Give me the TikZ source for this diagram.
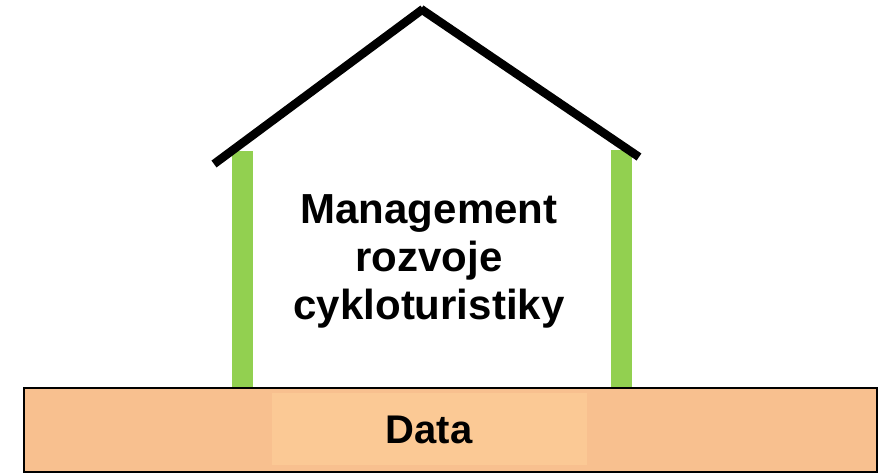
\documentclass[tikz,border=0pt]{standalone}
\usepackage{fontspec}
\setmainfont{Liberation Sans}
\usetikzlibrary{calc}
\definecolor{basefill}{HTML}{F8C08F}
\definecolor{innerfill}{HTML}{FBC995}
\definecolor{pillar}{HTML}{92D050}
\tikzset{
  roofline/.style={line width=8.5pt, black, line cap=butt},
  pillarbox/.style={fill=pillar, draw=none},
  labeltext/.style={font=\bfseries\fontsize{42}{48}\selectfont, align=center, text=black, inner sep=0pt},
}
\begin{document}
\begin{tikzpicture}[x=1pt,y=-1pt]
\useasboundingbox (0,0) rectangle (892,474);
% base
\fill[basefill] (24,388) rectangle (877,472);
\fill[innerfill] (272,393) rectangle (587,465);
\draw[black, line width=2pt] (24,388) rectangle (877,472);
% pillars
\fill[pillarbox] (232,151) rectangle (253,387);
\fill[pillarbox] (611,150) rectangle (632,387);
% roof
\coordinate (roofL) at (214,164);
\coordinate (apex) at (422,9);
\coordinate (roofR) at (639,157);
\draw[roofline] (roofL) -- ($(apex)+(1,0)$);
\draw[roofline] ($(apex)+(-1,0)$) -- (roofR);
% texts
\node[labeltext, anchor=base] (mgmt) at (429,223) {Management};
\node[labeltext, anchor=base] (rozv) at (429,271) {rozvoje};
\node[labeltext, anchor=base] (cyklo) at (429,319) {cykloturistiky};
\node[labeltext, anchor=base, font=\bfseries\fontsize{40}{46}\selectfont] (data) at (429,443) {Data};
\end{tikzpicture}
\end{document}
